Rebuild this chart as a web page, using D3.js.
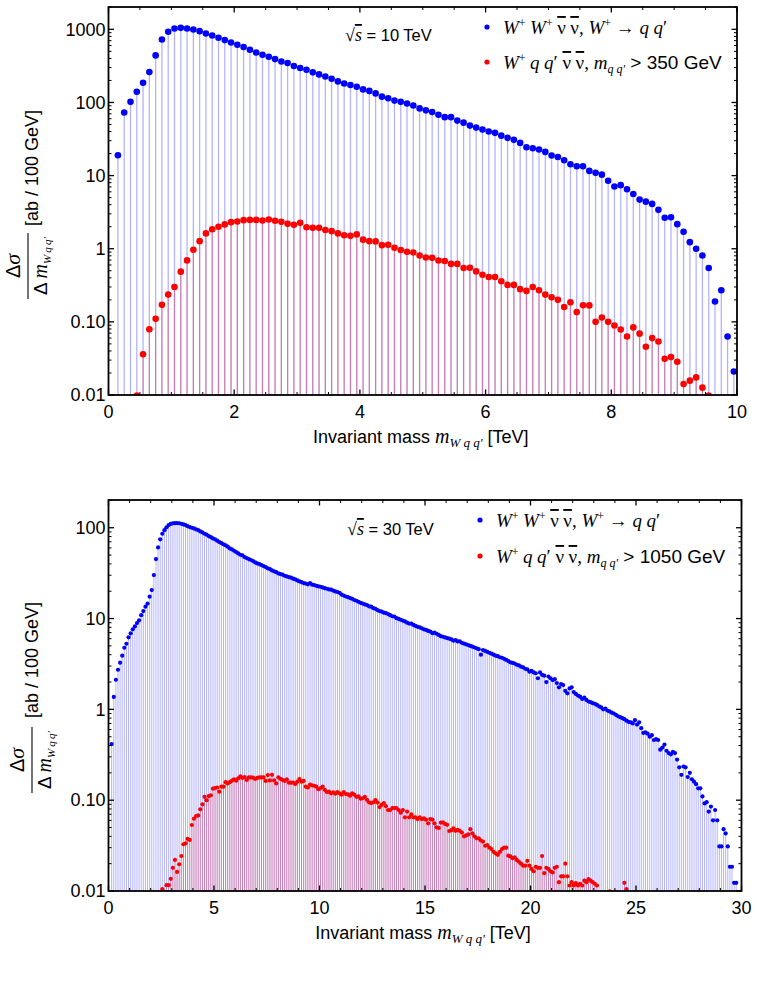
<!DOCTYPE html>
<html>
<head>
<meta charset="utf-8">
<script src="https://cdn.jsdelivr.net/npm/d3@7"></script>
<style>
  body { margin: 0; background: #fff; }
  svg { display: block; font-family: "Liberation Sans", Arial, sans-serif; }
  text { white-space: pre; }
</style>
</head>
<body>
<svg id="chart" width="757" height="1002"></svg>
<script>
const serif = "'Liberation Serif', 'Times New Roman', serif";
const binWidth = 0.1; // 100 GeV bins, values are bin centres in TeV

// ---- sqrt(s) = 10 TeV ----
const tenBlueStart = 0.15;
const tenBlue = [
  19, 73, 102, 140, 186, 261, 440, 726, 925, 1026,
  1048, 1026, 994, 945, 877, 822, 766, 713, 661, 615,
  572, 525, 483, 449, 422, 392, 364, 346, 315, 296,
  280, 258, 242, 227, 211, 194, 182, 173, 164, 151,
  144, 133, 120, 114, 106, 102, 97, 91, 83, 78,
  74, 68, 63, 63, 56.5, 53, 48.3, 45.3, 42.6, 40,
  38.4, 35.2, 32.8, 30.8, 28, 24.4, 23.7, 22.7, 21.1, 18.8,
  18.0, 16.2, 14.3, 13.4, 13.4, 11.6, 10.9, 10.3, 8.5, 7.1,
  7.4, 6.5, 5.6, 4.7, 4.4, 4.1, 3.4, 2.65, 2.7, 2.17,
  1.71, 1.23, 1.0, 0.81, 0.546, 0.19, 0.27, 0.063, 0.021
];
const tenRedStart = 0.45;
const tenRed = [
  0.0098, 0.036, 0.079, 0.11, 0.171, 0.236, 0.30, 0.486, 0.693, 0.97,
  1.27, 1.62, 1.85, 2.0, 2.15, 2.31, 2.36, 2.46, 2.48, 2.48,
  2.43, 2.51, 2.41, 2.33, 2.19, 2.12, 2.26, 1.97, 1.93, 1.93,
  1.80, 1.74, 1.62, 1.53, 1.50, 1.57, 1.33, 1.27, 1.26, 1.12,
  1.13, 1.03, 0.96, 0.91, 0.89, 0.81, 0.76, 0.75, 0.69, 0.68,
  0.62, 0.62, 0.545, 0.55, 0.49, 0.44, 0.41, 0.41, 0.36, 0.32,
  0.32, 0.28, 0.265, 0.30, 0.27, 0.236, 0.217, 0.20, 0.16, 0.185,
  0.136, 0.169, 0.168, 0.10, 0.115, 0.10, 0.089, 0.0786, 0.063, 0.084,
  0.069, 0.0456, 0.060, 0.054, 0.0313, 0.033, 0.0285, 0.0141, 0.0157, 0.0174,
  0.0126, 0.0098
];
const tenXTicks = [0, 2, 4, 6, 8, 10];
const tenYTicks = [0.01, 0.1, 1, 10, 100, 1000];
const tenYLabels = ["0.01", "0.10", "1", "10", "100", "1000"];

// ---- sqrt(s) = 30 TeV ----
const thirtyBlueStart = 0.15;
const thirtyBlue = [
  0.415, 1.37, 2.12, 2.73, 3.27, 3.90, 4.77, 5.28, 6.21, 6.87,
  7.60, 8.20, 8.92, 9.55, 10.9, 12.1, 13.5, 14.6, 17.4, 20.6,
  30.1, 45.2, 60.7, 74.5, 85.9, 94.1, 101, 107, 110, 112,
  112.5, 112.5, 112, 110.6, 108.8, 107, 104, 101.7, 100, 98.3,
  96, 94.3, 91.1, 88.9, 85.9, 83.8, 81, 79, 76.3, 74.5,
  72, 69.5, 67.8, 65.6, 64, 61.8, 59.2, 57.7, 55.8, 54,
  52.1, 50.4, 49.6, 47.5, 46.3, 45.2, 44.1, 43, 41.5, 40.5,
  39.8, 38.8, 37.8, 36.9, 35.7, 35.1, 33.9, 33.1, 32.4, 31.4,
  30.9, 30.4, 29.6, 29.1, 28.6, 28.2, 27.5, 27.0, 26.3, 25.6,
  25.2, 24.6, 24.3, 23.8, 24.6, 23.6, 23.4, 22.9, 22.6, 22.4,
  22.0, 21.6, 21.3, 20.9, 20.8, 20.3, 19.9, 19.6, 19.2, 18.3,
  17.9, 17.5, 17.2, 16.8, 16.5, 16.0, 15.7, 15.3, 14.9, 14.6,
  14.3, 14.1, 13.6, 13.5, 13.0, 12.8, 12.4, 12.1, 11.9, 11.6,
  11.5, 11.2, 10.9, 10.6, 10.5, 10.1, 9.9, 9.7, 9.5, 9.3,
  9.0, 8.8, 8.8, 8.5, 8.3, 8.1, 8.0, 7.8, 7.6, 7.5,
  7.3, 7.2, 6.9, 7.0, 6.8, 6.6, 6.4, 6.3, 6.2, 6.1,
  6.0, 5.9, 5.7, 5.8, 5.6, 5.6, 5.4, 5.3, 5.2, 5.1,
  5.0, 4.9, 4.8, 4.7, 4.6, 4.0, 4.5, 4.4, 4.3, 4.2,
  4.1, 4.0, 3.9, 3.85, 3.75, 3.7, 3.6, 3.5, 3.4, 3.3,
  3.25, 3.2, 3.1, 3.05, 2.95, 2.9, 2.8, 2.75, 2.6, 2.65,
  2.55, 2.5, 2.2, 2.55, 2.4, 2.35, 2.0, 2.3, 2.2, 2.1,
  2.15, 1.95, 1.75, 1.9, 1.85, 1.6, 1.5, 1.7, 1.75, 1.55,
  1.48, 1.42, 1.38, 1.3, 1.35, 1.27, 1.22, 1.2, 1.17, 1.15,
  1.12, 1.08, 1.05, 1.0, 1.02, 0.97, 0.95, 0.92, 0.9, 0.87,
  0.84, 0.82, 0.8, 0.78, 0.75, 0.73, 0.72, 0.7, 0.76, 0.68,
  0.72, 0.62, 0.55, 0.56, 0.54, 0.5, 0.52, 0.46, 0.47, 0.46,
  0.36, 0.38, 0.41, 0.35, 0.33, 0.32, 0.34, 0.33, 0.28, 0.23,
  0.19, 0.235, 0.23, 0.18, 0.2, 0.17, 0.16, 0.15, 0.135, 0.135,
  0.11, 0.092, 0.095, 0.075, 0.085, 0.06, 0.078, 0.06, 0.031, 0.031,
  0.048, 0.043, 0.031, 0.0185, 0.0185, 0.0123, 0.0123
];
const thirtyRedStart = 2.55;
const thirtyRed = [
  0.0105, 0.0098, 0.0116, 0.0116, 0.0136, 0.018, 0.022, 0.0162, 0.0197, 0.0243,
  0.0327, 0.0335, 0.0374, 0.0365, 0.0533, 0.0626, 0.067, 0.068, 0.0794, 0.090,
  0.109, 0.10, 0.111, 0.113, 0.134, 0.136, 0.138, 0.124, 0.141, 0.141,
  0.158, 0.153, 0.158, 0.164, 0.17, 0.164, 0.174, 0.183, 0.176, 0.18,
  0.167, 0.178, 0.178, 0.177, 0.171, 0.176, 0.178, 0.178, 0.178, 0.163,
  0.189, 0.165, 0.19, 0.165, 0.153, 0.178, 0.172, 0.167, 0.163, 0.17,
  0.156, 0.156, 0.156, 0.151, 0.16, 0.171, 0.16, 0.163, 0.141, 0.138,
  0.148, 0.146, 0.144, 0.141, 0.132, 0.136, 0.141, 0.13, 0.123, 0.124,
  0.119, 0.122, 0.118, 0.123, 0.119, 0.115, 0.123, 0.117, 0.116, 0.112,
  0.119, 0.115, 0.109, 0.11, 0.104, 0.105, 0.109, 0.101, 0.0948, 0.093,
  0.0948, 0.10, 0.094, 0.084, 0.089, 0.093, 0.086, 0.078, 0.078, 0.082,
  0.082, 0.082, 0.078, 0.0728, 0.078, 0.0648, 0.075, 0.0648, 0.070, 0.0648,
  0.0648, 0.062, 0.0648, 0.062, 0.063, 0.061, 0.0556, 0.062, 0.061, 0.0556,
  0.0503, 0.0495, 0.0565, 0.057, 0.0548, 0.0535, 0.0458, 0.0468, 0.049, 0.046,
  0.047, 0.046, 0.044, 0.040, 0.041, 0.042, 0.048, 0.043, 0.040, 0.038,
  0.038, 0.036, 0.035, 0.0315, 0.032, 0.030, 0.029, 0.027, 0.026, 0.025,
  0.027, 0.029, 0.030, 0.030, 0.0245, 0.024, 0.023, 0.0235, 0.022, 0.021,
  0.020, 0.019, 0.019, 0.0215, 0.019, 0.0175, 0.0165, 0.0185, 0.018, 0.018,
  0.0243, 0.0157, 0.018, 0.0175, 0.0165, 0.016, 0.018, 0.0185, 0.0125, 0.0145,
  0.0145, 0.020, 0.0145, 0.0115, 0.0125, 0.0115, 0.0122, 0.0115, 0.012, 0.0115,
  0.013, 0.0125, 0.0135, 0.013, 0.0125, 0.012, 0.0115, 0.0095, 0.009, 0.009,
  0.009, 0.0092, 0.0099, 0.009, 0.009, 0.009, 0.009, 0.009, 0.009, 0.0123,
  0.0105
];
const thirtyXTicks = [0, 5, 10, 15, 20, 25, 30];
const thirtyYTicks = [0.01, 0.1, 1, 10, 100];
const thirtyYLabels = ["0.01", "0.10", "1", "10", "100"];

const svg = d3.select("#chart");

// append tspans; shift = baseline offset in px (positive = down)
function rich(sel, parts) {
  let shift = 0;
  parts.forEach(p => {
    const want = p.shift || 0;
    const ts = sel.append("tspan").text(p.t).attr("dy", want - shift);
    shift = want;
    if (p.serif) ts.attr("font-family", serif);
    if (p.italic) ts.attr("font-style", "italic");
    if (p.size) ts.attr("font-size", p.size);
    if (p.over) ts.attr("text-decoration", "overline");
  });
}

const nuBar = {t: "ν", serif: true, size: 19, over: true};
const sup = {t: "+", serif: true, size: 12, shift: -7};
const it = t => ({t, serif: true, italic: true, size: 19});
const sp = {t: " ", serif: true, size: 18};

function panel(o) {
  const x = d3.scaleLinear().domain(o.xDomain).range([o.left, o.right]);
  const y = d3.scaleLog().domain(o.yDomain).range([o.bottom, o.top]);
  const g = svg.append("g");

  g.append("clipPath").attr("id", o.id)
    .append("rect")
    .attr("x", o.left).attr("y", o.top)
    .attr("width", o.right - o.left).attr("height", o.bottom - o.top);

  const plot = g.append("g").attr("clip-path", `url(#${o.id})`);
  const series = o.series.map(s => ({
    color: s.color,
    pts: s.values.map((v, i) => ({m: s.start + i * binWidth, v}))
  }));

  // stems from the bottom of the frame up to each point
  series.forEach(s => {
    plot.append("g")
      .attr("stroke", s.color)
      .attr("stroke-opacity", 0.3)
      .attr("stroke-width", o.stemWidth)
      .selectAll("line")
      .data(s.pts.filter(d => d.v > o.yDomain[0]))
      .join("line")
      .attr("x1", d => x(d.m)).attr("x2", d => x(d.m))
      .attr("y1", o.bottom).attr("y2", d => y(d.v));
  });
  series.forEach(s => {
    plot.append("g")
      .attr("fill", s.color)
      .selectAll("circle")
      .data(s.pts)
      .join("circle")
      .attr("cx", d => x(d.m))
      .attr("cy", d => y(d.v))
      .attr("r", o.dotR);
  });

  // frame
  g.append("rect")
    .attr("x", o.left).attr("y", o.top)
    .attr("width", o.right - o.left).attr("height", o.bottom - o.top)
    .attr("fill", "none").attr("stroke", "black").attr("stroke-width", 1.8);

  // ticks, all four sides, pointing inward
  const ticks = g.append("g").attr("stroke", "black");
  const xMinor = d3.range(o.xDomain[0], o.xDomain[1] + 1e-9, o.xMinorStep);
  xMinor.forEach(v => {
    const major = o.xTicks.includes(v);
    const len = major ? 5.5 : 3;
    const w = major ? 1.3 : 1;
    ticks.append("line").attr("x1", x(v)).attr("x2", x(v))
      .attr("y1", o.bottom).attr("y2", o.bottom - len).attr("stroke-width", w);
    ticks.append("line").attr("x1", x(v)).attr("x2", x(v))
      .attr("y1", o.top).attr("y2", o.top + len).attr("stroke-width", w);
  });
  y.ticks().forEach(v => {
    const major = Math.abs(Math.log10(v) - Math.round(Math.log10(v))) < 1e-6;
    const len = major ? 5.5 : 3;
    const w = major ? 1.3 : 1;
    ticks.append("line").attr("x1", o.left).attr("x2", o.left + len)
      .attr("y1", y(v)).attr("y2", y(v)).attr("stroke-width", w);
    ticks.append("line").attr("x1", o.right).attr("x2", o.right - len)
      .attr("y1", y(v)).attr("y2", y(v)).attr("stroke-width", w);
  });

  g.append("g").attr("font-size", 18).attr("text-anchor", "middle")
    .selectAll("text").data(o.xTicks).join("text")
    .attr("x", d => x(d)).attr("y", o.bottom + 23)
    .text(d => d);
  g.append("g").attr("font-size", 18).attr("text-anchor", "end")
    .selectAll("text").data(o.yTicks).join("text")
    .attr("x", o.left - 3).attr("y", d => y(d)).attr("dy", "0.35em")
    .text((d, i) => o.yLabels[i]);

  // x title
  const xt = g.append("text").attr("x", (o.left + o.right) / 2 - 2)
    .attr("y", o.bottom + 48).attr("font-size", 18).attr("text-anchor", "middle");
  rich(xt, [
    {t: "Invariant mass "},
    {t: "m", serif: true, italic: true, size: 20},
    {t: "W q q′", serif: true, italic: true, size: 13, shift: 4},
    {t: " [TeV]"}
  ]);

  // y title, rotated fraction plus units
  const yt = g.append("g").attr("transform", `translate(${o.fracX},${o.fracY}) rotate(-90)`);
  yt.append("line").attr("x1", -33).attr("x2", 33)
    .attr("stroke", "black").attr("stroke-width", 1.1);
  const num = yt.append("text").attr("text-anchor", "middle").attr("y", -8).attr("font-size", 20);
  rich(num, [{t: "Δ"}, {t: "σ", serif: true, italic: true, size: 22}]);
  const den = yt.append("text").attr("text-anchor", "middle").attr("y", 19).attr("font-size", 19);
  rich(den, [
    {t: "Δ\u2009"},
    {t: "m", serif: true, italic: true, size: 20},
    {t: "W\u2009q\u2009q′", serif: true, italic: true, size: 11, shift: 4}
  ]);
  yt.append("text").attr("text-anchor", "middle")
    .attr("x", o.unitsGap).attr("y", o.unitsY).attr("font-size", 18)
    .text("[ab / 100 GeV]");

  // sqrt(s) label
  const rs = g.append("text").attr("x", o.energyX).attr("y", o.energyY).attr("font-size", 16.5);
  rich(rs, [
    {t: "√", serif: true, size: 18},
    {t: "s", serif: true, italic: true, size: 18, over: true},
    {t: " = " + o.energy + " TeV"}
  ]);

  // legend
  const lg = g.append("g").attr("transform", `translate(${o.legX},${o.legY})`);
  lg.append("circle").attr("r", 2.6).attr("fill", "blue");
  lg.append("circle").attr("cy", o.legGap).attr("r", 2.6).attr("fill", "red");
  const l1 = lg.append("text").attr("x", 16).attr("y", 7).attr("font-size", 19);
  rich(l1, [
    it("W"), sup, sp, it("W"), sup, sp, nuBar, sp, nuBar,
    {t: ", ", serif: true, size: 19},
    it("W"), sup,
    {t: " → ", serif: true, size: 19},
    it("q"), sp, it("q"), {t: "′", serif: true, size: 19}
  ]);
  const l2 = lg.append("text").attr("x", 16).attr("y", o.legGap + 7).attr("font-size", 19);
  rich(l2, [
    it("W"), sup, sp, it("q"), sp, it("q"), {t: "′ ", serif: true, size: 19},
    nuBar, sp, nuBar,
    {t: ", ", serif: true, size: 19},
    it("m"),
    {t: "q q′", serif: true, italic: true, size: 12, shift: 4},
    {t: " > " + o.cut + " GeV"}
  ]);
}

panel({
  id: "clipTen", left: 108.5, right: 737, top: 7, bottom: 395,
  xDomain: [0, 10], yDomain: [0.01, 2020], xMinorStep: 0.5,
  xTicks: tenXTicks, yTicks: tenYTicks, yLabels: tenYLabels,
  series: [
    {start: tenBlueStart, values: tenBlue, color: "blue"},
    {start: tenRedStart, values: tenRed, color: "red"}
  ],
  stemWidth: 1.3, dotR: 3.3,
  fracX: 28, fracY: 266, unitsGap: 98, unitsY: 10,
  energy: "10", energyX: 345, energyY: 41,
  legX: 487, legY: 27, legGap: 35, cut: "350"
});

panel({
  id: "clipThirty", left: 108.5, right: 741.5, top: 500, bottom: 891,
  xDomain: [0, 30], yDomain: [0.01, 202], xMinorStep: 1,
  xTicks: thirtyXTicks, yTicks: thirtyYTicks, yLabels: thirtyYLabels,
  series: [
    {start: thirtyBlueStart, values: thirtyBlue, color: "blue"},
    {start: thirtyRedStart, values: thirtyRed, color: "red"}
  ],
  stemWidth: 1, dotR: 2.1,
  fracX: 32, fracY: 760, unitsGap: 100, unitsY: 6,
  energy: "30", energyX: 347, energyY: 535,
  legX: 480, legY: 520, legGap: 36, cut: "1050"
});
</script>
</body>
</html>
